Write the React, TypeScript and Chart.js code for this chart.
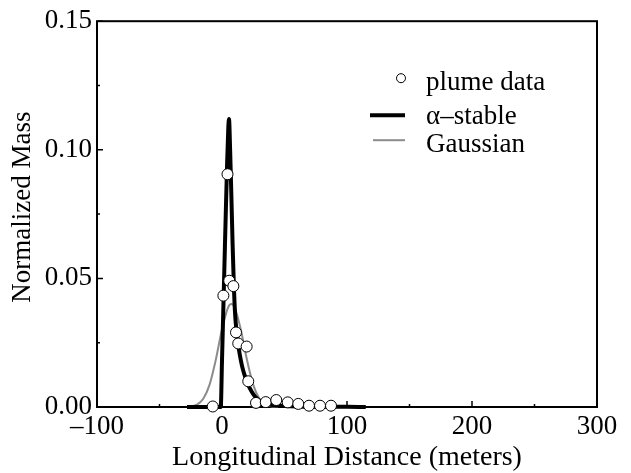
import React, { useEffect, useRef } from 'react';
import { Chart, registerables } from 'chart.js';

Chart.register(...registerables);

const FONT = '"Liberation Serif", "Times New Roman", serif';

// Plume data (observed)
const X_PLUME = [-7.4, 1.1, 4.4, 5.8, 9.1, 11.2, 13.0, 19.7, 21.0, 27.2, 35.0, 43.4, 52.6, 61.0, 69.6, 78.4, 87.2];
const Y_PLUME = [0.0002, 0.0433, 0.0905, 0.0491, 0.047, 0.029, 0.0247, 0.0235, 0.01, 0.0016, 0.0019, 0.0027, 0.0018, 0.0012, 0.0005, 0.0005, 0.0005];

// alpha-stable fit
const X_ALPHA = [-28, -10, -1, 0, 1, 2, 3, 4, 5, 5.6, 6.5, 7.5, 8.5, 9.5, 10.5, 11.5, 12.5, 14, 16, 18, 20, 22, 25, 28, 32, 36, 40, 50, 60, 80, 100, 115];
const Y_ALPHA = [0, 0, 0, 0.018, 0.037, 0.056, 0.075, 0.093, 0.108, 0.112, 0.1, 0.082, 0.063, 0.047, 0.036, 0.03, 0.026, 0.021, 0.016, 0.0125, 0.0098, 0.0075, 0.005, 0.0032, 0.0019, 0.0012, 0.0008, 0.0004, 0.0002, 0.0001, 0.00005, 0];

// Gaussian fit
const X_GAUSS = [-28, -25, -20, -15, -10, -5, 0, 5, 7.5, 10, 15, 20, 25, 30, 35, 40, 45];
const Y_GAUSS = [0.00007, 0.0002, 0.0009, 0.0032, 0.0086, 0.0183, 0.0302, 0.0388, 0.04, 0.0388, 0.0302, 0.0183, 0.0086, 0.0032, 0.0009, 0.0002, 0.00004];

const X_MAJOR = [-100, 0, 100, 200, 300];
const X_MINOR = [-50, 50, 150, 250];
const Y_MAJOR = [0, 0.05, 0.1, 0.15];
const Y_MINOR = [0.025, 0.075, 0.125];

const LEGEND_LABELS = ['plume data', 'α–stable', 'Gaussian'];
const X_TITLE = 'Longitudinal Distance (meters)';
const Y_TITLE = 'Normalized Mass';

const pts = (xs: number[], ys: number[]) => xs.map((x, i) => ({ x, y: ys[i] }));

export default function App() {
  const ref = useRef<HTMLCanvasElement>(null);

  useEffect(() => {
    if (!ref.current) return;

    const boxPlugin = {
      id: 'boxTicks',
      beforeDatasetsDraw(chart: any) {
        const { ctx, chartArea: a, scales } = chart;
        const xs = scales.x;
        const ys = scales.y;
        ctx.save();
        ctx.strokeStyle = '#000';
        ctx.lineWidth = 2;
        ctx.strokeRect(a.left, a.top, a.right - a.left, a.bottom - a.top);
        ctx.lineWidth = 1.5;
        ctx.beginPath();
        X_MAJOR.forEach((v) => {
          const p = xs.getPixelForValue(v);
          ctx.moveTo(p, a.bottom);
          ctx.lineTo(p, a.bottom - 6);
        });
        X_MINOR.forEach((v) => {
          const p = xs.getPixelForValue(v);
          ctx.moveTo(p, a.bottom);
          ctx.lineTo(p, a.bottom - 3);
        });
        Y_MAJOR.forEach((v) => {
          const p = ys.getPixelForValue(v);
          ctx.moveTo(a.left, p);
          ctx.lineTo(a.left + 6, p);
        });
        Y_MINOR.forEach((v) => {
          const p = ys.getPixelForValue(v);
          ctx.moveTo(a.left, p);
          ctx.lineTo(a.left + 3, p);
        });
        ctx.stroke();
        ctx.restore();
      },
      afterDraw(chart: any) {
        const { ctx, chartArea: a } = chart;
        const lx = a.left + 273;
        const tx = a.left + 329;
        const baseY = [a.top + 69, a.top + 103, a.top + 131];
        const markY = [a.top + 57, a.top + 94, a.top + 119];
        ctx.save();
        // circle marker
        ctx.beginPath();
        ctx.arc(a.left + 304, markY[0], 4.5, 0, Math.PI * 2);
        ctx.fillStyle = '#fff';
        ctx.fill();
        ctx.lineWidth = 1;
        ctx.strokeStyle = '#000';
        ctx.stroke();
        // alpha line
        ctx.beginPath();
        ctx.moveTo(lx, markY[1]);
        ctx.lineTo(lx + 35, markY[1]);
        ctx.lineWidth = 4;
        ctx.strokeStyle = '#000';
        ctx.stroke();
        // gaussian line
        ctx.beginPath();
        ctx.moveTo(lx + 3, markY[2]);
        ctx.lineTo(lx + 35, markY[2]);
        ctx.lineWidth = 2;
        ctx.strokeStyle = '#8c8c8c';
        ctx.stroke();
        ctx.fillStyle = '#000';
        ctx.font = `27px ${FONT}`;
        ctx.textBaseline = 'alphabetic';
        ctx.textAlign = 'left';
        LEGEND_LABELS.forEach((t, i) => ctx.fillText(t, tx, baseY[i]));
        // y axis title
        ctx.translate(23, (a.top + a.bottom) / 2 - 7);
        ctx.rotate(-Math.PI / 2);
        ctx.textAlign = 'center';
        ctx.textBaseline = 'middle';
        ctx.fillText(Y_TITLE, 0, 0);
        ctx.restore();
      },
    };

    const chart = new Chart(ref.current, {
      type: 'scatter',
      data: {
        datasets: [
          {
            label: LEGEND_LABELS[0],
            data: pts(X_PLUME, Y_PLUME),
            showLine: false,
            pointRadius: 5.5,
            pointBackgroundColor: '#fff',
            pointBorderColor: '#000',
            pointBorderWidth: 1,
            order: 0,
            clip: false,
          } as any,
          {
            label: LEGEND_LABELS[1],
            data: pts(X_ALPHA, Y_ALPHA),
            showLine: true,
            borderColor: '#000',
            borderWidth: 4,
            pointRadius: 0,
            cubicInterpolationMode: 'monotone',
            order: 1,
            clip: false,
          } as any,
          {
            label: LEGEND_LABELS[2],
            data: pts(X_GAUSS, Y_GAUSS),
            showLine: true,
            borderColor: '#8c8c8c',
            borderWidth: 2,
            pointRadius: 0,
            cubicInterpolationMode: 'monotone',
            order: 2,
            clip: false,
          } as any,
        ],
      },
      options: {
        animation: false,
        responsive: false,
        devicePixelRatio: 1,
        layout: { padding: { top: 18, right: 34, left: 0, bottom: 0 } },
        plugins: {
          legend: { display: false },
          tooltip: { enabled: false },
        },
        scales: {
          x: {
            type: 'linear',
            min: -100,
            max: 300,
            afterFit: (s: any) => { s.height = 66; },
            afterBuildTicks: (s: any) => { s.ticks = X_MAJOR.map((v) => ({ value: v })); },
            grid: { display: false, drawTicks: false },
            border: { display: false },
            ticks: {
              padding: 4,
              color: '#000',
              font: { family: FONT, size: 27 },
              callback: (v: any) => (Number(v) < 0 ? '–' + Math.abs(Number(v)) : String(v)),
              maxRotation: 0,
            },
            title: {
              display: true,
              text: X_TITLE,
              color: '#000',
              font: { family: FONT, size: 28, lineHeight: 1 },
              padding: { top: 0, bottom: 1 },
            },
          },
          y: {
            type: 'linear',
            min: 0,
            max: 0.15,
            afterFit: (s: any) => { s.width = 97; },
            afterBuildTicks: (s: any) => { s.ticks = Y_MAJOR.map((v) => ({ value: v })); },
            grid: { display: false, drawTicks: false },
            border: { display: false },
            ticks: {
              padding: 5,
              color: '#000',
              font: { family: FONT, size: 27 },
              callback: (v: any) => Number(v).toFixed(2),
            },
            title: { display: false },
          },
        },
      },
      plugins: [boxPlugin],
    } as any);

    return () => chart.destroy();
  }, []);

  return (
    <div style={{ position: 'fixed', left: 0, top: 0, width: 631, height: 473, background: '#fff' }}>
      <canvas ref={ref} width={631} height={473} style={{ width: 631, height: 473 }} />
    </div>
  );
}
